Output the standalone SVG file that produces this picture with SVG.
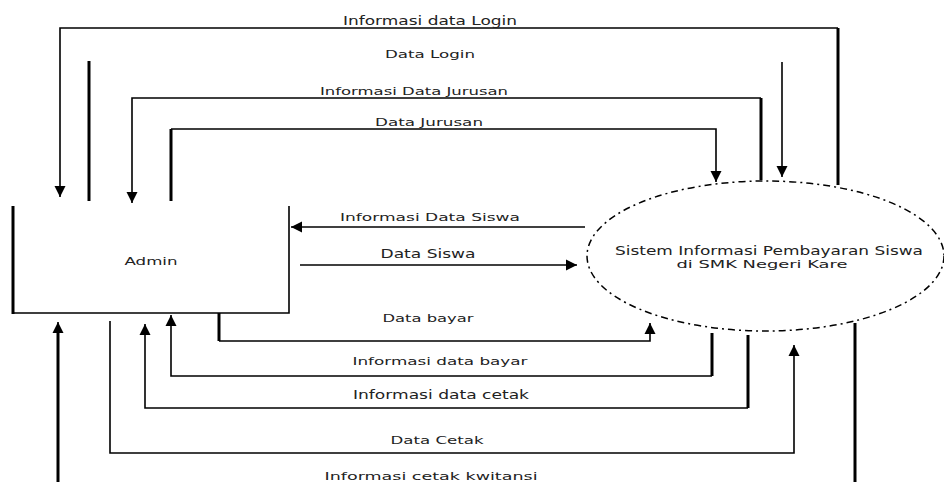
<svg xmlns="http://www.w3.org/2000/svg" width="944" height="482" viewBox="0 0 944 482">
<style>
.ln{fill:none;stroke:#000;stroke-width:1.6}
.tk{fill:none;stroke:#000;stroke-width:3}
.lbl{font-family:"DejaVu Sans","Liberation Sans",sans-serif;fill:#222;text-anchor:middle}
.s10{font-size:10px}
.s12{font-size:12px}
</style>
<defs>
<marker id="ah" viewBox="0 0 10 10" refX="10" refY="5" markerWidth="11" markerHeight="13" markerUnits="userSpaceOnUse" orient="auto">
<path d="M0,0 L10,5 L0,10 z" fill="#000"/>
</marker>
</defs>
<rect width="944" height="482" fill="#fff"/>

<g id="admin">
<path class="ln" d="M13,313 H289 V206"/>
<path class="tk" d="M13,206 V314"/>
<text class="lbl s10" x="151" y="265" textLength="53" lengthAdjust="spacingAndGlyphs">Admin</text>
</g>

<g id="sistem">
<ellipse cx="765.5" cy="256" rx="178.5" ry="75" fill="none" stroke="#000" stroke-width="1.5" stroke-dasharray="7 4 2 4"/>
<text class="lbl" x="769" y="255" font-size="13" textLength="308" lengthAdjust="spacingAndGlyphs">Sistem Informasi Pembayaran Siswa</text>
<text class="lbl s10" x="762" y="268" textLength="171" lengthAdjust="spacingAndGlyphs">di SMK Negeri Kare</text>
</g>

<g id="connectors">
<g id="c-info-login">
<path class="tk" d="M838,185 V28"/>
<path class="ln" d="M838,28 H60 V197" marker-end="url(#ah)"/>
<text class="lbl s12" x="430" y="25" textLength="174" lengthAdjust="spacingAndGlyphs">Informasi data Login</text>
</g>
<g id="c-data-login">
<path class="tk" d="M89,61 V201"/>
<path class="ln" d="M782,62 V177" marker-end="url(#ah)"/>
<text class="lbl s10" x="430" y="58" textLength="90" lengthAdjust="spacingAndGlyphs">Data Login</text>
</g>
<g id="c-info-jurusan">
<path class="tk" d="M761,180 V98"/>
<path class="ln" d="M761,98 H132 V203" marker-end="url(#ah)"/>
<text class="lbl s10" x="414" y="95" textLength="188" lengthAdjust="spacingAndGlyphs">Informasi Data Jurusan</text>
</g>
<g id="c-data-jurusan">
<path class="tk" d="M171,201 V129"/>
<path class="ln" d="M171,129 H716 V182" marker-end="url(#ah)"/>
<text class="lbl s10" x="429" y="126" textLength="108" lengthAdjust="spacingAndGlyphs">Data Jurusan</text>
</g>
<g id="c-info-siswa">
<path class="ln" d="M585,227 H291" marker-end="url(#ah)"/>
<text class="lbl s10" x="430" y="221" textLength="180" lengthAdjust="spacingAndGlyphs">Informasi Data Siswa</text>
</g>
<g id="c-data-siswa">
<path class="ln" d="M300,265 H577" marker-end="url(#ah)"/>
<text class="lbl s12" x="428" y="258" textLength="95" lengthAdjust="spacingAndGlyphs">Data Siswa</text>
</g>
<g id="c-data-bayar">
<path class="tk" d="M219,313 V341"/>
<path class="ln" d="M219,341 H650 V323" marker-end="url(#ah)"/>
<text class="lbl s10" x="428" y="322" textLength="91" lengthAdjust="spacingAndGlyphs">Data bayar</text>
</g>
<g id="c-info-bayar">
<path class="tk" d="M712,333 V376"/>
<path class="ln" d="M712,376 H171 V315" marker-end="url(#ah)"/>
<text class="lbl s10" x="440" y="365" textLength="175" lengthAdjust="spacingAndGlyphs">Informasi data bayar</text>
</g>
<g id="c-info-cetak">
<path class="tk" d="M748,335 V408"/>
<path class="ln" d="M748,408 H145 V324" marker-end="url(#ah)"/>
<text class="lbl s12" x="441" y="399" textLength="176" lengthAdjust="spacingAndGlyphs">Informasi data cetak</text>
</g>
<g id="c-data-cetak">
<path class="ln" d="M110,321 V453 H794 V345" marker-end="url(#ah)"/>
<text class="lbl s10" x="437" y="444" textLength="93" lengthAdjust="spacingAndGlyphs">Data Cetak</text>
</g>
<g id="c-info-kwitansi">
<path class="tk" d="M855,323 V482"/>
<path class="tk" d="M58,482 V330"/>
<path class="ln" d="M58,332 V322" marker-end="url(#ah)"/>
<text class="lbl" x="431" y="480" font-size="11" textLength="213" lengthAdjust="spacingAndGlyphs">Informasi cetak kwitansi</text>
</g>
</g>
</svg>
